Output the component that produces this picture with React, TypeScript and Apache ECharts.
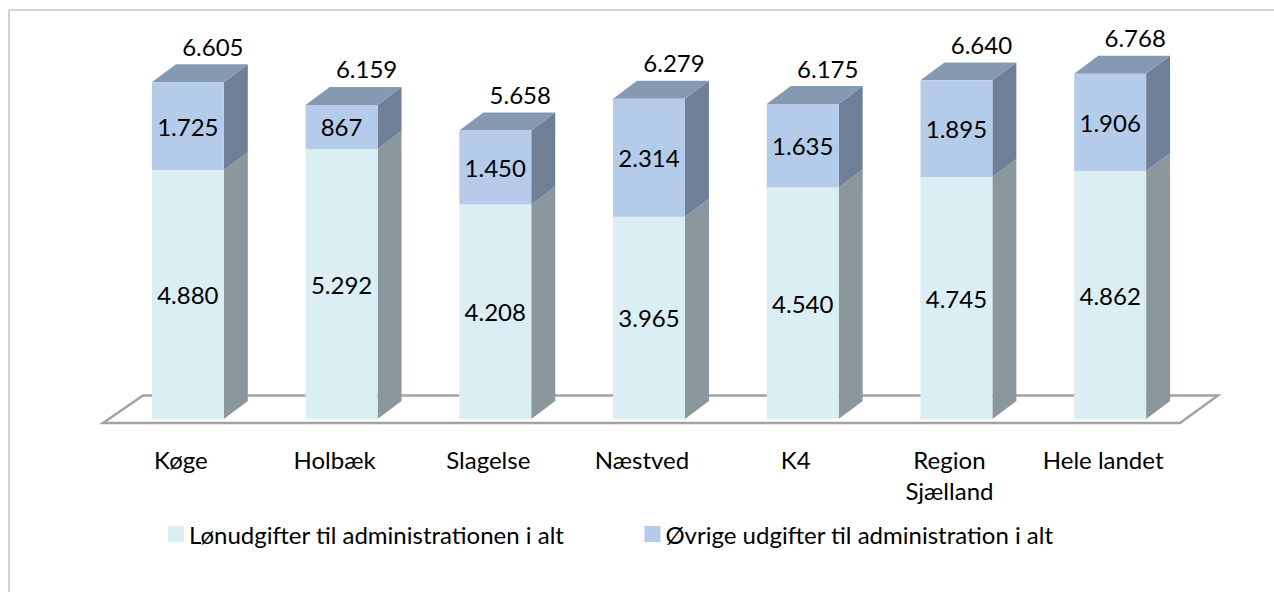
import React, { useEffect, useRef } from "react";
import * as echarts from "echarts";

const categories = ["Køge", "Holbæk", "Slagelse", "Næstved", "K4", "Region\nSjælland", "Hele landet"];
const lonudgifter = [4880, 5292, 4208, 3965, 4540, 4745, 4862];
const ovrige = [1725, 867, 1450, 2314, 1635, 1895, 1906];
const totals = [6605, 6159, 5658, 6279, 6175, 6640, 6768];
const seriesNames = ["Lønudgifter til administrationen i alt", "Øvrige udgifter til administration i alt"];

const FONT = "Lato, 'Open Sans', sans-serif";
const FS = 24;
const C_FRONT_LOW = "#DBEEF4";
const C_FRONT_UP = "#B4CCEA";
const C_SIDE_LOW = "#8A979C";
const C_SIDE_UP = "#6F7F98";
const C_TOP = "#8699B2";
const BAR_RATIO = 0.468;

const fmt = (v: number) => String(v).replace(/\B(?=(\d{3})+(?!\d))/g, ".");

export default function App() {
  const ref = useRef<HTMLDivElement>(null);
  useEffect(() => {
    if (!ref.current) return;
    const chart = echarts.init(ref.current, undefined, { renderer: "svg" });
    const faceData = categories.map((_, i) => [i, lonudgifter[i], totals[i]]);
    const barLabel = {
      show: true,
      position: "inside",
      fontSize: FS,
      fontFamily: FONT,
      color: "#000",
      formatter: (p: any) => fmt(p.value),
    };
    chart.setOption({
      animation: false,
      backgroundColor: "#fff",
      graphic: [
        {
          type: "rect",
          silent: true,
          shape: { x: 9, y: 10, width: 1400, height: 800 },
          style: { fill: "none", stroke: "#A6A6A6", lineWidth: 1 },
        },
      ],
      grid: { left: 111, right: 87, top: 11, bottom: 173 },
      legend: {
        left: 163,
        top: 514,
        itemWidth: 16,
        itemHeight: 16,
        itemGap: 80,
        icon: "rect",
        data: seriesNames,
        textStyle: { fontSize: FS, fontFamily: FONT, color: "#000", lineHeight: 30 },
      },
      xAxis: {
        type: "category",
        data: categories,
        axisLine: { show: false },
        axisTick: { show: false },
        axisLabel: {
          fontSize: FS,
          fontFamily: FONT,
          color: "#000",
          lineHeight: 31,
          margin: 25,
          verticalAlign: "top",
          padding: [0, 14, 0, 0],
          interval: 0,
        },
      },
      yAxis: { type: "value", min: 0, max: 8000, show: false, splitLine: { show: false } },
      series: [
        {
          type: "custom",
          name: "floor",
          silent: true,
          z: 1,
          data: [[0, 0]],
          renderItem: (params: any, api: any) => {
            const cs = params.coordSys;
            const y0 = api.coord([0, 0])[1];
            return {
              type: "polygon",
              shape: {
                points: [
                  [cs.x - 8, y0 + 4],
                  [cs.x + cs.width - 7, y0 + 4],
                  [cs.x + cs.width + 31, y0 - 23.5],
                  [cs.x + 32, y0 - 23.5],
                ],
              },
              style: { fill: "#fff", stroke: "#A3A3A3", lineWidth: 2.5 },
            };
          },
        },
        {
          type: "bar",
          name: seriesNames[0],
          stack: "total",
          z: 3,
          barWidth: BAR_RATIO * 100 + "%",
          data: lonudgifter,
          itemStyle: { color: C_FRONT_LOW },
          label: barLabel,
        },
        {
          type: "bar",
          name: seriesNames[1],
          stack: "total",
          z: 3,
          barWidth: BAR_RATIO * 100 + "%",
          data: ovrige,
          itemStyle: { color: C_FRONT_UP },
          label: barLabel,
        },
        {
          type: "custom",
          name: "faces",
          silent: true,
          z: 2,
          data: faceData,
          renderItem: (params: any, api: any) => {
            const i = api.value(0);
            const low = api.value(1);
            const tot = api.value(2);
            const w = api.size([1, 0])[0] * BAR_RATIO;
            const cx = api.coord([i, 0])[0];
            const y0 = api.coord([i, 0])[1];
            const y1 = api.coord([i, low])[1];
            const y2 = api.coord([i, tot])[1];
            const xr = cx + w / 2;
            const xl = cx - w / 2;
            const dx = w / 3;
            const dy = w / 4;
            return {
              type: "group",
              children: [
                {
                  type: "polygon",
                  shape: { points: [[xr, y0], [xr + dx, y0 - dy], [xr + dx, y1 - dy], [xr, y1]] },
                  style: { fill: C_SIDE_LOW },
                },
                {
                  type: "polygon",
                  shape: { points: [[xr, y1], [xr + dx, y1 - dy], [xr + dx, y2 - dy], [xr, y2]] },
                  style: { fill: C_SIDE_UP },
                },
                {
                  type: "polygon",
                  shape: { points: [[xl, y2], [xr, y2], [xr + dx, y2 - dy], [xl + dx, y2 - dy]] },
                  style: { fill: C_TOP },
                },
                {
                  type: "text",
                  x: cx + 25,
                  y: y2 - 36,
                  style: {
                    text: fmt(tot),
                    fill: "#000",
                    fontSize: FS,
                    fontFamily: FONT,
                    align: "center",
                    verticalAlign: "middle",
                  },
                },
              ],
            };
          },
        },
      ],
    });
    return () => chart.dispose();
  }, []);
  return <div ref={ref} style={{ position: "fixed", left: 0, top: 0, width: 1274, height: 592 }} />;
}
